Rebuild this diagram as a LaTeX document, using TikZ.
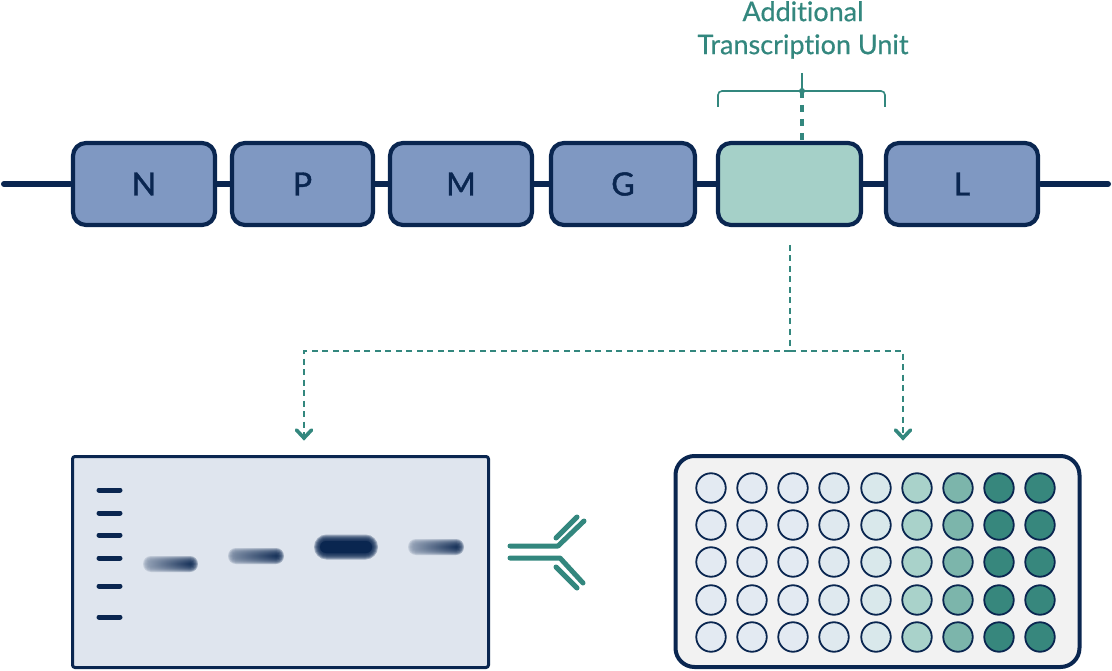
\documentclass[tikz,border=0pt]{standalone}
\usepackage{fontspec}
\setmainfont[Ligatures=NoCommon]{Lato}
\newfontfamily\medfont[FakeBold=1.3]{Lato}
\newfontfamily\labelfont[FakeBold=0.5,Ligatures=NoCommon]{Lato}
\usetikzlibrary{calc}
\definecolor{navy}{HTML}{0A2650}
\definecolor{geneblue}{HTML}{7F98C2}
\definecolor{genegreen}{HTML}{A5D0C8}
\definecolor{teal}{HTML}{33877E}
\definecolor{gelbg}{HTML}{DFE5EE}
\definecolor{platebg}{HTML}{F2F2F2}
\tikzset{
  gene/.style={draw=navy,line width=4.2,rounded corners=13,fill=geneblue,inner sep=0,outer sep=0},
  geneletter/.style={text=navy,font=\medfont\fontsize{32}{32}\selectfont},
  backbone/.style={draw=navy,line width=6,line cap=round},
  link/.style={draw=navy,line width=6},
  droplink/.style={draw=teal,line width=2.8,dash pattern=on 6 off 4.5},
  chevron/.style={draw=teal,line width=3.6,line cap=round,line join=miter},
  antibody/.style={draw=teal,line width=5,line cap=round},
  ladder/.style={draw=navy,line width=5,line cap=round},
  well/.style={circle,draw=navy,line width=1.8,minimum size=29.5,inner sep=0}
}
% Soft-edged gel band: layered translucent fills, left end paler than right
\newcommand{\gelband}[6]{% x0,x1,y,half height,left colour,right colour
  \foreach \g in {4,3,2,1,0,-1,-2,-3}{
    \pgfmathsetmacro{\rad}{#4+\g}
    \path[left color=#5,right color=#6,opacity=0.3,rounded corners=\rad pt]
      ($(#1-\g,#3-#4-\g)$) rectangle ($(#2+\g,#3+#4+\g)$);
  }
}
\begin{document}
\begin{tikzpicture}[x=1pt,y=-1pt]
\useasboundingbox (0,0) rectangle (1112,671);

% Genome track
\coordinate (trackL) at (4,184);
\coordinate (trackR) at (1108,184);
\node[gene,minimum width=142,minimum height=82] (N) at (144,184) {};
\node[gene,minimum width=141,minimum height=82] (P) at (302.5,184) {};
\node[gene,minimum width=142,minimum height=82] (M) at (461,184) {};
\node[gene,minimum width=144,minimum height=82] (G) at (623,184) {};
\node[gene,minimum width=143,minimum height=82,fill=genegreen] (ATU) at (789.5,184) {};
\node[gene,minimum width=152,minimum height=82] (L) at (962,184) {};
\node[geneletter] (Nt) at (N) {N};
\node[geneletter] (Pt) at (P) {P};
\node[geneletter] (Mt) at (M) {M};
\node[geneletter] (Gt) at (G) {G};
\node[geneletter] (Lt) at (L) {L};
\draw[backbone,shorten >=3] (trackL) -- (N.west);
\draw[link] (N.east) -- (P.west);
\draw[link] (P.east) -- (M.west);
\draw[link] (M.east) -- (G.west);
\draw[link] (G.east) -- (ATU.west);
\draw[link] (ATU.east) -- (L.west);
\draw[backbone,shorten <=3] (L.east) -- (trackR);

% Label and bracket over the added unit
\node[text=teal,font=\labelfont\fontsize{27}{33}\selectfont,align=center,inner sep=0] (label) at (803,30)
  {Additional\\Transcription Unit};
\coordinate (brL) at (718,107);
\coordinate (brR) at (885,107);
\coordinate (brTop) at (802,91);
\coordinate (stem) at (802,73);
\draw[teal,line width=1.6,rounded corners=4] (brL) |- (brTop) -| (brR);
\draw[teal,line width=1.6] (stem) -- (brTop);
\fill[teal] (brTop) circle (3);
\draw[teal,line width=3.2,dash pattern=on 7.5 off 6.5] (brTop) -- (802,141);

% Branching dashed connector down to the two assays
\coordinate (dropTop) at (790,245);
\coordinate (split) at (790,351);
\coordinate (tipL) at (304,438);
\coordinate (tipR) at (903,438);
\draw[droplink] (dropTop) -- (split);
\draw[droplink] (split) -| (tipL);
\draw[droplink] (split) -| (tipR);
\foreach \t in {tipL,tipR}{
  \draw[chevron] ($(\t)+(-7.5,-8)$) -- (\t) -- ($(\t)+(7.5,-8)$);
}

% Western blot panel
\node[draw=navy,line width=3,fill=gelbg,rounded corners=2.5,minimum width=416,minimum height=211,inner sep=0] (gel) at (280.5,562) {};
\foreach \y/\n in {490/a,513/b,535/c,558/d,586/e,617/f}{
  \coordinate (l\n) at (99,\y);
  \coordinate (r\n) at (120,\y);
  \draw[ladder] (l\n) -- (r\n);
}
\gelband{147}{194}{564}{4}{navy!40!gelbg}{navy!100!gelbg}
\gelband{232}{280}{556}{4}{navy!50!gelbg}{navy!100!gelbg}
\gelband{318}{374}{547}{8.5}{navy}{navy}
\gelband{412}{460}{547}{4}{navy!40!gelbg}{navy!100!gelbg}
\path[fill=navy,rounded corners=6] (320,541) rectangle (372,553);

% Antibody
\draw[antibody,line join=round] (510,546) -- (558,546) -- (584,521);
\draw[antibody] (556,538) -- (577,517);
\draw[antibody,line join=round] (510,558) -- (560,558) -- (583,583);
\draw[antibody] (556,567) -- (577,588);

% Well plate panel
\node[draw=navy,line width=4,fill=platebg,rounded corners=19,minimum width=404,minimum height=211,inner sep=0] (plate) at (877.5,561.5) {};
\foreach \x/\c/\wc in {711/1/E3EAF2,752/2/E3EAF2,793/3/E3EAF2,834/4/DFE9EF,876/5/D9E8EB,917/6/A9D2CA,958/7/7CB5AB,999/8/37877D,1040/9/37877D}{
  \definecolor{wellc}{HTML}{\wc}
  \foreach \y/\r in {488/1,525/2,562/3,600/4,637/5}{
    \node[well,fill=wellc] (w\r\c) at (\x,\y) {};
  }
}
\end{tikzpicture}
\end{document}
